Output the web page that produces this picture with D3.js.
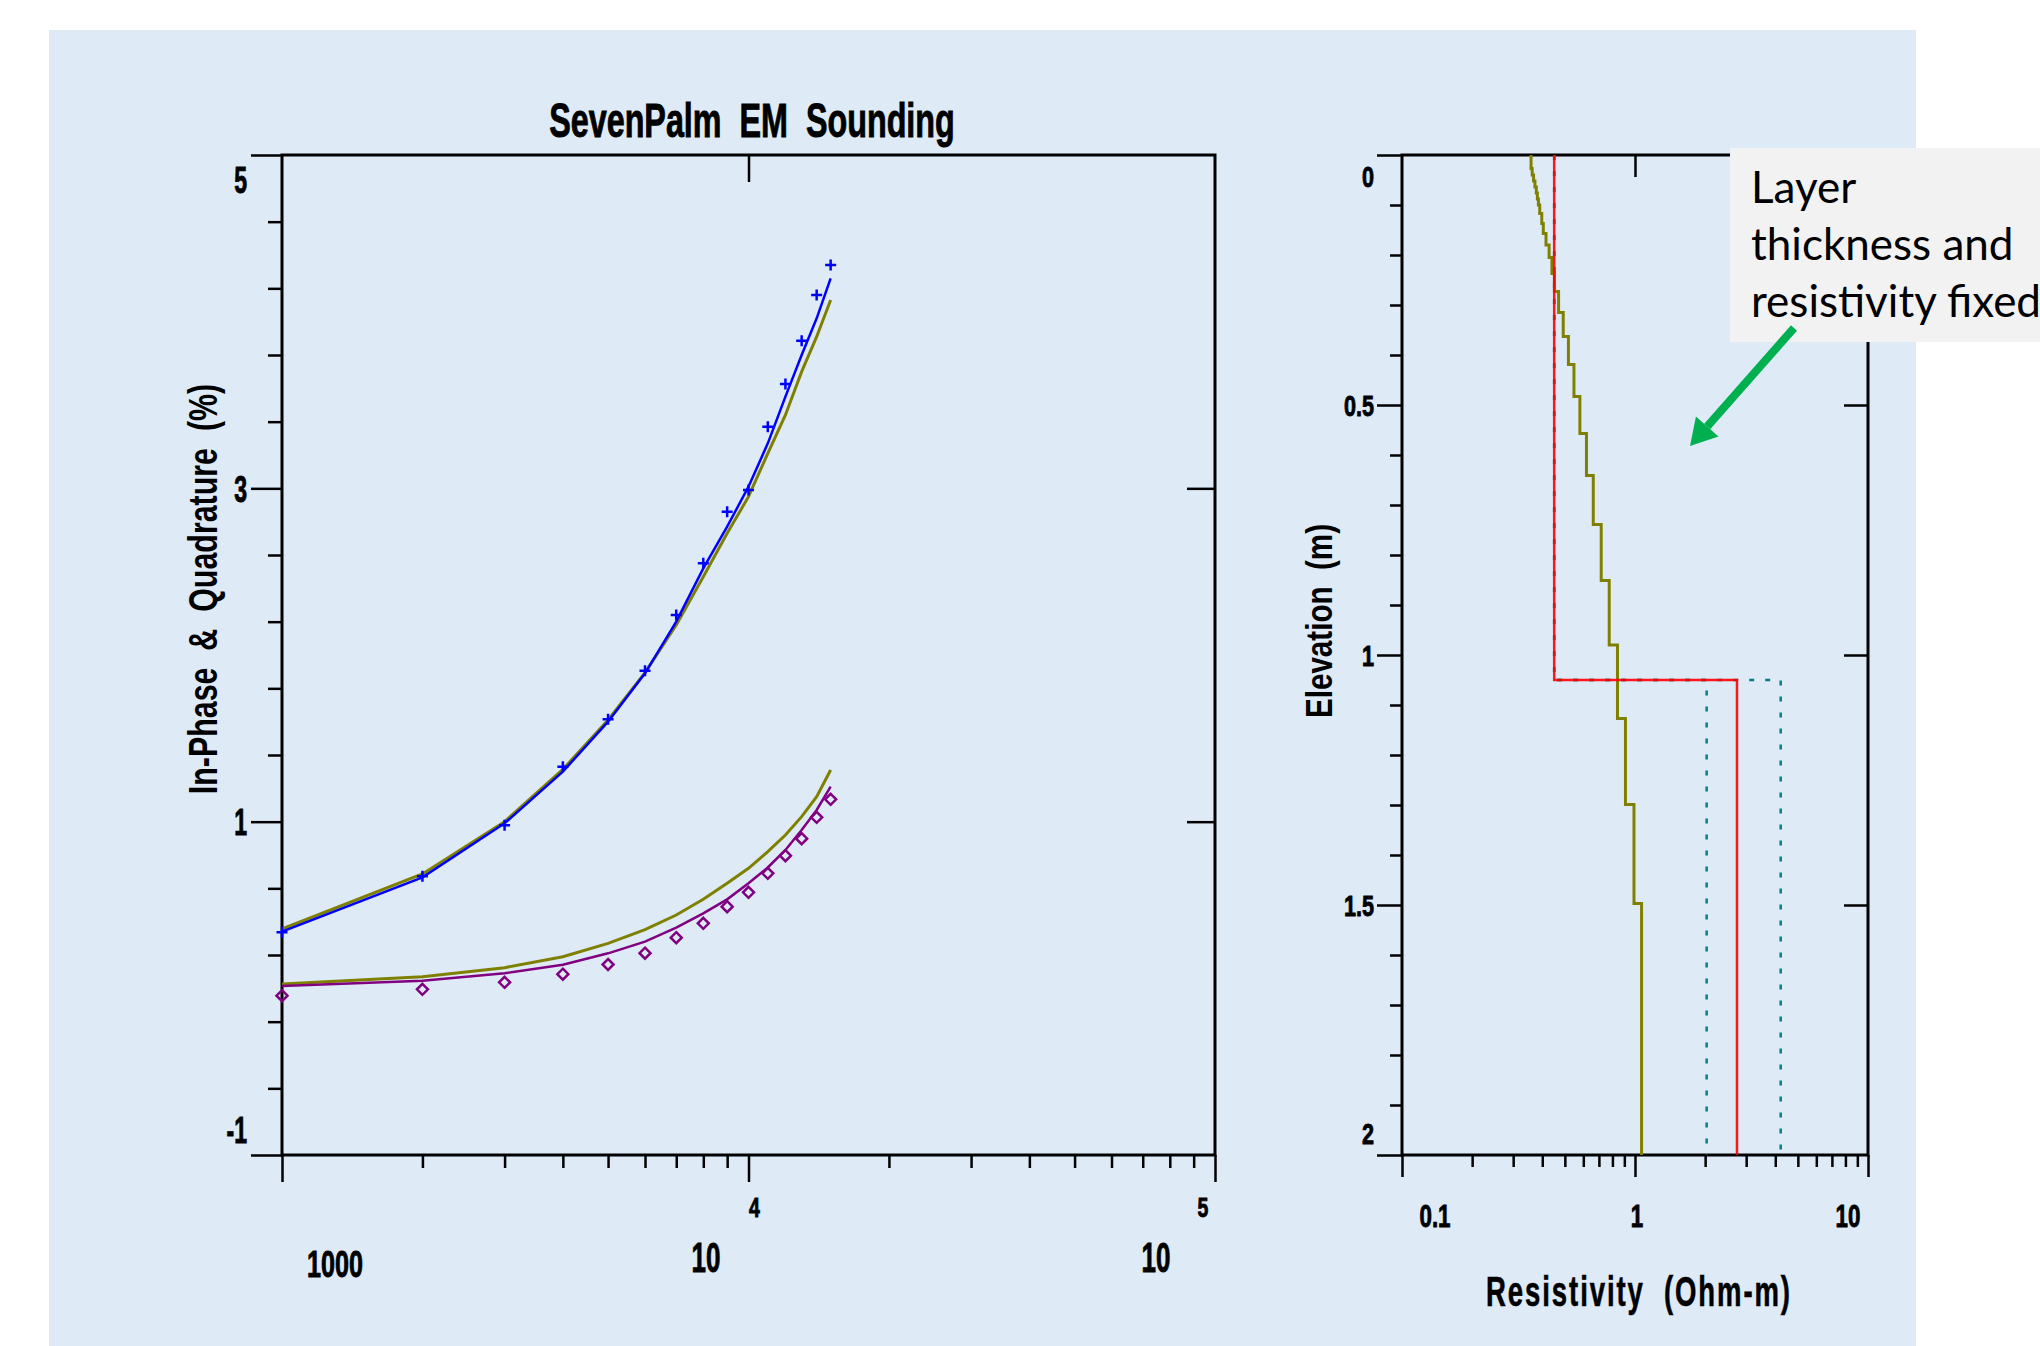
<!DOCTYPE html>
<html>
<head>
<meta charset="utf-8">
<script src="https://cdn.jsdelivr.net/npm/d3@7"></script>
<style>
  html, body { margin: 0; padding: 0; background: #fff; }
  svg text { white-space: pre; }
</style>
</head>
<body>
<svg id="chart" width="2040" height="1346"></svg>
<script>
// sounding frequencies (Hz)
const freqs = [1000, 2000, 3000, 4000, 5000, 6000, 7000, 8000, 9000, 10000, 11000, 12000, 13000, 14000, 15000];
// in-phase (%)
const inphaseObs    = [0.336, 0.672, 0.978, 1.33, 1.614, 1.905, 2.24, 2.55, 2.86, 2.99, 3.37, 3.626, 3.886, 4.16, 4.34];
const inphaseFixed  = [0.34, 0.666, 0.99, 1.30, 1.60, 1.89, 2.20, 2.52, 2.77, 3.01, 3.27, 3.55, 3.80, 4.02, 4.26];
const inphaseSmooth = [0.356, 0.686, 1.0, 1.314, 1.61, 1.894, 2.18, 2.47, 2.73, 2.95, 3.21, 3.44, 3.70, 3.91, 4.13];
// quadrature (%)
const quadObs    = [-0.044, -0.006, 0.036, 0.085, 0.143, 0.211, 0.304, 0.39, 0.49, 0.576, 0.69, 0.796, 0.898, 1.026, 1.134];
const quadFixed  = [0.014, 0.046, 0.09, 0.142, 0.21, 0.28, 0.364, 0.45, 0.534, 0.63, 0.725, 0.83, 0.95, 1.07, 1.21];
const quadSmooth = [0.026, 0.07, 0.124, 0.19, 0.27, 0.352, 0.44, 0.534, 0.63, 0.72, 0.82, 0.92, 1.03, 1.15, 1.31];

// smooth (many-layer) model: layer tops (m) and resistivity (Ohm-m)
const smoothTop = [0, 0.027, 0.04, 0.052, 0.064, 0.076, 0.088, 0.1, 0.117, 0.137, 0.157, 0.18, 0.205, 0.237, 0.273, 0.315, 0.363, 0.419, 0.483, 0.557, 0.641, 0.739, 0.851, 0.98, 1.127, 1.299, 1.497];
const smoothRes = [0.358, 0.362, 0.367, 0.372, 0.377, 0.381, 0.385, 0.39, 0.398, 0.404, 0.415, 0.428, 0.44, 0.451, 0.47, 0.492, 0.518, 0.547, 0.58, 0.619, 0.662, 0.716, 0.775, 0.841, 0.91, 0.99, 1.067];
// two-layer fixed model and its bounds
const fixedTop = [0, 1.05];
const fixedRes = [0.45, 2.74];
const lowBoundRes = [0.45, 2.03];
const highBoundRes = [0.45, 4.22];
const maxDepth = 2;

const yTickLabels = ["-1", "1", "3", "5"];
const depthTickLabels = ["0", "0.5", "1", "1.5", "2"];
const resTickLabels = ["0.1", "1", "10"];

const FONT = "'Liberation Sans', Arial, sans-serif";
const svg = d3.select("#chart");

svg.append("rect")
  .attr("x", 49).attr("y", 30)
  .attr("width", 1867).attr("height", 1316)
  .attr("fill", "#deebf7");

// condensed bold text helper (stroke thickens it like a narrow bold face)
function ctext(g, x, y, txt, size, sx, anchor) {
  return g.append("text")
    .attr("transform", `translate(${x},${y}) scale(${sx},1)`)
    .attr("text-anchor", anchor || "middle")
    .attr("font-family", FONT)
    .attr("font-weight", "bold")
    .attr("font-size", size)
    .attr("fill", "#000")
    .attr("stroke", "#000")
    .attr("stroke-width", 0.9)
    .text(txt);
}

function styleAxis(g) {
  g.select(".domain").remove();
  g.selectAll("line").attr("stroke", "#000").attr("stroke-width", 2.5);
  g.selectAll("text").remove();
}

// ---------- left chart ----------
const x = d3.scaleLog().domain([1000, 100000]).range([282, 1215]);
const y = d3.scaleLinear().domain([-1, 5]).range([1155, 155]);

const L = svg.append("g");
const xAll = x.ticks();
const xMajor = xAll.filter(v => Math.abs(Math.log10(v) % 1) < 1e-9);
const xMinor = xAll.filter(v => !xMajor.includes(v));
const yMajor = yTickLabels.map(Number);
const yMinor = d3.range(0, 16).map(i => -1 + i * 0.4).filter(v => !yMajor.some(m => Math.abs(m - v) < 1e-6));

L.append("g").attr("transform", "translate(0,1155)")
  .call(d3.axisBottom(x).tickValues(xMinor).tickSize(13)).call(styleAxis);
L.append("g").attr("transform", "translate(0,1155)")
  .call(d3.axisBottom(x).tickValues(xMajor).tickSize(27)).call(styleAxis);
L.append("g").attr("transform", "translate(0,155)")
  .call(d3.axisBottom(x).tickValues([10000]).tickSize(27)).call(styleAxis);
L.append("g").attr("transform", "translate(282,0)")
  .call(d3.axisLeft(y).tickValues(yMinor).tickSize(14)).call(styleAxis);
L.append("g").attr("transform", "translate(282,0)")
  .call(d3.axisLeft(y).tickValues(yMajor).tickSize(31)).call(styleAxis);
L.append("g").attr("transform", "translate(1215,0)")
  .call(d3.axisLeft(y).tickValues([1, 3]).tickSize(28)).call(styleAxis);

L.append("rect")
  .attr("x", x(1000)).attr("y", y(5))
  .attr("width", x(100000) - x(1000)).attr("height", y(-1) - y(5))
  .attr("fill", "none").attr("stroke", "#000").attr("stroke-width", 3);

// y tick labels (end labels kept inside the axis)
const yLabelShift = {"-1": -12, "1": 13, "3": 14, "5": 38};
yTickLabels.forEach(t => ctext(L, 247, y(+t) + yLabelShift[t], t, 36, 0.64, "end"));

// x tick labels in the original's split exponent style
ctext(L, 335, 1277, "1000", 37, 0.68);
ctext(L, 706, 1272, "10", 42, 0.62);
ctext(L, x(10000) + 6, 1217, "4", 27, 0.72);
ctext(L, 1156, 1272, "10", 42, 0.62);
ctext(L, x(100000) - 12, 1217, "5", 27, 0.72);

ctext(L, 752, 137, "SevenPalm  EM  Sounding", 48, 0.673);

L.append("text")
  .attr("transform", "translate(217,589) rotate(-90) scale(0.76,1)")
  .attr("text-anchor", "middle")
  .attr("font-family", FONT).attr("font-weight", "bold").attr("font-size", 40)
  .text("In-Phase  &  Quadrature  (%)");

const line = d3.line().x(d => x(d[0])).y(d => y(d[1]));
const series = [
  {vals: inphaseSmooth, color: "#808000", w: 3},
  {vals: quadSmooth, color: "#808000", w: 3},
  {vals: inphaseFixed, color: "#0000ff", w: 2.5},
  {vals: quadFixed, color: "#800080", w: 2.5}
];
series.forEach(s => {
  L.append("path")
    .attr("d", line(freqs.map((f, i) => [f, s.vals[i]])))
    .attr("fill", "none").attr("stroke", s.color).attr("stroke-width", s.w);
});

L.append("g").selectAll("path").data(freqs).join("path")
  .attr("transform", (f, i) => `translate(${x(f)},${y(inphaseObs[i])})`)
  .attr("d", "M-5.5,0H5.5M0,-5.5V5.5")
  .attr("stroke", "#0000ff").attr("stroke-width", 2.5).attr("fill", "none");

L.append("g").selectAll("path").data(freqs).join("path")
  .attr("transform", (f, i) => `translate(${x(f)},${y(quadObs[i])})`)
  .attr("d", "M0,-5.5L5.5,0L0,5.5L-5.5,0Z")
  .attr("stroke", "#800080").attr("stroke-width", 2.5).attr("fill", "none");

// ---------- right chart ----------
const xr = d3.scaleLog().domain([0.1, 10]).range([1402, 1868]);
const yr = d3.scaleLinear().domain([0, maxDepth]).range([155, 1155]);
const R = svg.append("g");

const rAll = xr.ticks();
const rMajor = resTickLabels.map(Number);
const rMinor = rAll.filter(v => !rMajor.some(m => Math.abs(m - v) < 1e-9));
const dMajor = depthTickLabels.map(Number);
const dMinor = d3.range(0, 21).map(i => i * 0.1).filter(v => !dMajor.some(m => Math.abs(m - v) < 1e-6));

R.append("g").attr("transform", "translate(0,1155)")
  .call(d3.axisBottom(xr).tickValues(rMinor).tickSize(12)).call(styleAxis);
R.append("g").attr("transform", "translate(0,1155)")
  .call(d3.axisBottom(xr).tickValues(rMajor).tickSize(22)).call(styleAxis);
R.append("g").attr("transform", "translate(0,155)")
  .call(d3.axisBottom(xr).tickValues([1]).tickSize(22)).call(styleAxis);
R.append("g").attr("transform", "translate(1402,0)")
  .call(d3.axisLeft(yr).tickValues(dMinor).tickSize(12)).call(styleAxis);
R.append("g").attr("transform", "translate(1402,0)")
  .call(d3.axisLeft(yr).tickValues(dMajor).tickSize(25)).call(styleAxis);
R.append("g").attr("transform", "translate(1868,0)")
  .call(d3.axisLeft(yr).tickValues([0.5, 1, 1.5]).tickSize(24)).call(styleAxis);

R.append("rect")
  .attr("x", xr(0.1)).attr("y", yr(0))
  .attr("width", xr(10) - xr(0.1)).attr("height", yr(2) - yr(0))
  .attr("fill", "none").attr("stroke", "#000").attr("stroke-width", 3);

const dLabelShift = {"0": 32, "0.5": 11, "1": 11, "1.5": 11, "2": -11};
depthTickLabels.forEach(t => ctext(R, 1374, yr(+t) + dLabelShift[t], t, 30, 0.72, "end"));
const rLabelX = {"0.1": 1435, "1": 1637, "10": 1848};
resTickLabels.forEach(t => ctext(R, rLabelX[t], 1227, t, 31, 0.72));

R.append("text")
  .attr("transform", "translate(1332,621) rotate(-90) scale(0.8,1)")
  .attr("text-anchor", "middle")
  .attr("font-family", FONT).attr("font-weight", "bold").attr("font-size", 37)
  .text("Elevation  (m)");

ctext(R, 1639, 1306, "Resistivity  (Ohm-m)", 43, 0.64).attr("letter-spacing", 3).attr("stroke-width", 0.6);

const lr = d3.line().x(d => xr(d[0])).y(d => yr(d[1]));
function blocky(tops, res) {
  const pts = [];
  tops.forEach((t, i) => {
    const bot = i < tops.length - 1 ? tops[i + 1] : maxDepth;
    pts.push([res[i], t], [res[i], bot]);
  });
  return pts;
}

[lowBoundRes, highBoundRes].forEach(b => {
  R.append("path").attr("d", lr(blocky(fixedTop, b)))
    .attr("fill", "none").attr("stroke", "#008080").attr("stroke-width", 2.5)
    .attr("stroke-dasharray", "5,11");
});
R.append("path").attr("d", lr(blocky(smoothTop, smoothRes)))
  .attr("fill", "none").attr("stroke", "#808000").attr("stroke-width", 3);
R.append("path").attr("d", lr(blocky(fixedTop, fixedRes)))
  .attr("fill", "none").attr("stroke", "#ff0000").attr("stroke-width", 2.5)
  .attr("opacity", 0.9);

// ---------- annotation ----------
const A = svg.append("g");
A.append("rect").attr("x", 1730).attr("y", 148).attr("width", 310).attr("height", 194).attr("fill", "#f2f2f2");
["Layer", "thickness and", "resistivity fixed"].forEach((t, i) => {
  A.append("text")
    .attr("x", 1751).attr("y", 203 + i * 57)
    .attr("font-family", "Lato, 'Open Sans', sans-serif").attr("font-size", 44)
    .attr("fill", "#000").text(t);
});
// arrow from the note towards the plot
const tail = [1794, 328], tip = [1690, 446];
const ang = Math.atan2(tip[1] - tail[1], tip[0] - tail[0]);
const headLen = 26, headW = 15;
const base = [tip[0] - headLen * Math.cos(ang), tip[1] - headLen * Math.sin(ang)];
A.append("line")
  .attr("x1", tail[0]).attr("y1", tail[1]).attr("x2", base[0]).attr("y2", base[1])
  .attr("stroke", "#00b050").attr("stroke-width", 8);
A.append("path")
  .attr("d", `M${tip[0]},${tip[1]}L${base[0] + headW * Math.sin(ang)},${base[1] - headW * Math.cos(ang)}L${base[0] - headW * Math.sin(ang)},${base[1] + headW * Math.cos(ang)}Z`)
  .attr("fill", "#00b050");
</script>
</body>
</html>
